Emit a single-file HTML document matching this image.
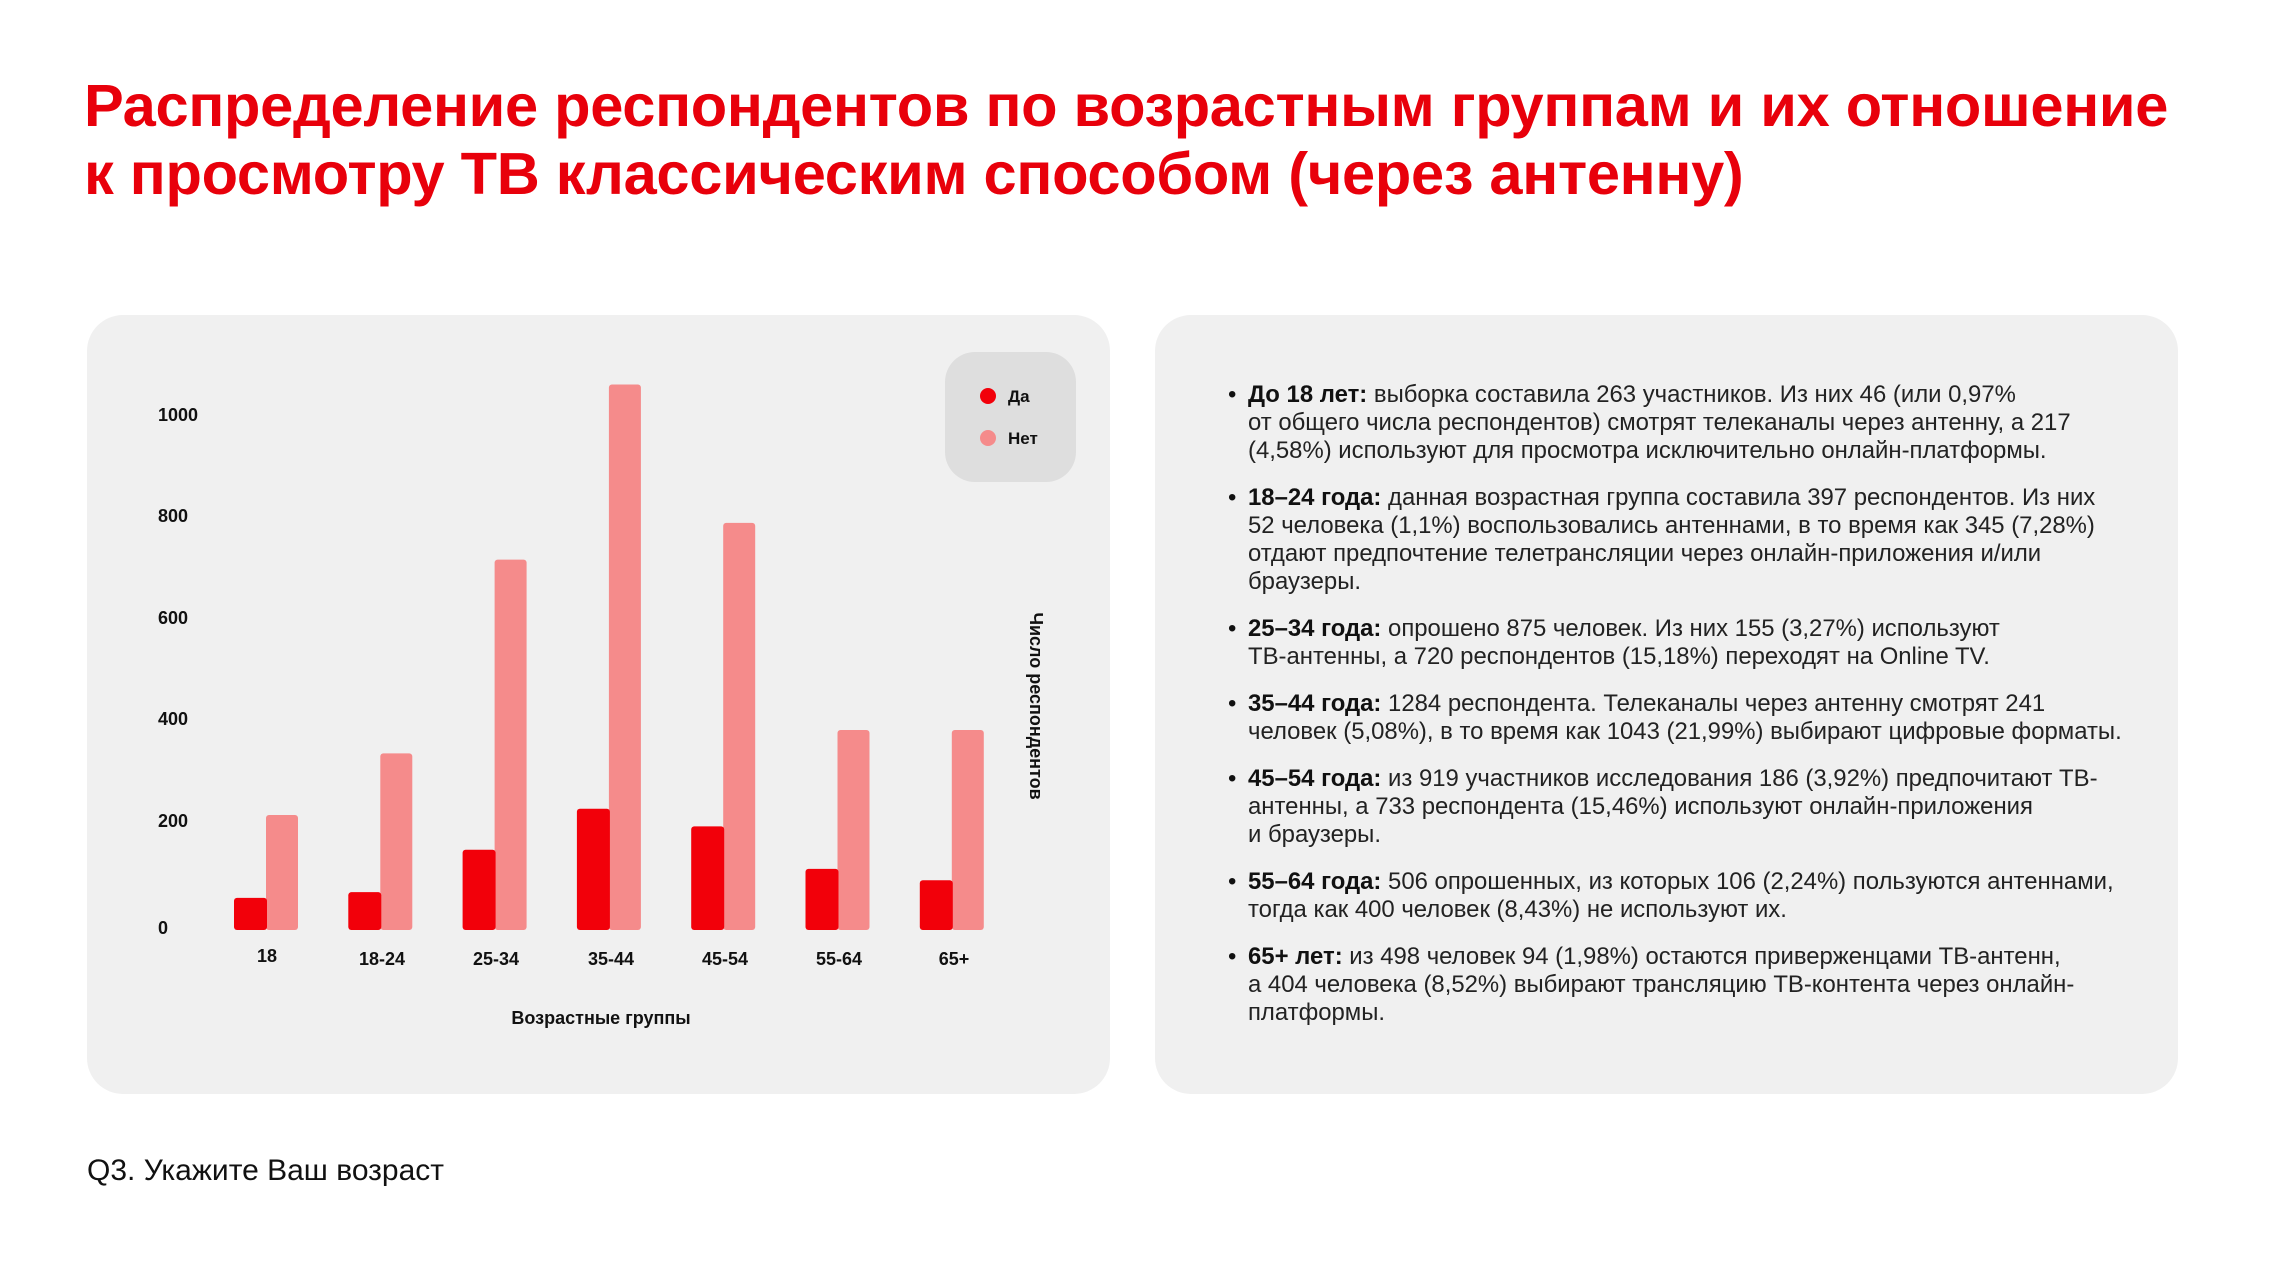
<!DOCTYPE html>
<html><head><meta charset="utf-8"><style>
html,body{margin:0;padding:0;background:#fff;}
body{width:2270px;height:1272px;position:relative;overflow:hidden;font-family:"Liberation Sans",Arial,sans-serif;}
.title{position:absolute;left:84px;top:72px;color:#e8000b;font-weight:bold;font-size:59.6px;line-height:68px;white-space:nowrap;letter-spacing:-0.3px;}
.panel{position:absolute;top:315px;width:1023px;height:779px;background:#f0f0f0;border-radius:36px;}
.txt{position:absolute;left:1248px;top:381px;font-size:23.9px;line-height:28px;color:#222;white-space:nowrap;}
.txt p{margin:0 0 19px 0;position:relative;}
.txt p:before{content:"•";position:absolute;left:-20px;top:0;color:#111;}
.txt b{color:#111;}
.foot{position:absolute;left:87px;top:1154px;font-size:30px;color:#111;}
</style></head><body>
<div class="title">Распределение респондентов по возрастным группам и их отношение<br>к просмотру ТВ классическим способом (через антенну)</div>
<div class="panel" style="left:87px"></div>
<div class="panel" style="left:1155px"></div>
<svg style="position:absolute;left:0;top:0" width="1130" height="1100">
<g font-family="Liberation Sans,Arial,sans-serif" font-weight="bold" font-size="18" fill="#111">
<text x="158" y="421">1000</text>
<text x="158" y="522">800</text>
<text x="158" y="624">600</text>
<text x="158" y="725">400</text>
<text x="158" y="827">200</text>
<text x="158" y="934">0</text>
<g text-anchor="middle">
<text x="267" y="962">18</text>
<text x="382" y="965">18-24</text>
<text x="496" y="965">25-34</text>
<text x="611" y="965">35-44</text>
<text x="725" y="965">45-54</text>
<text x="839" y="965">55-64</text>
<text x="954" y="965">65+</text>
<text x="601" y="1024">Возрастные группы</text>
</g>
<text transform="translate(1030,706) rotate(90)" text-anchor="middle" font-size="18">Число респондентов</text>
</g>
<rect x="945" y="352" width="131" height="130" rx="30" fill="#dedede"/>
<circle cx="988" cy="396" r="8" fill="#f2000a"/>
<circle cx="988" cy="438" r="8" fill="#f58b8b"/>
<g font-family="Liberation Sans,Arial,sans-serif" font-weight="bold" font-size="17" fill="#111">
<text x="1008" y="402">Да</text><text x="1008" y="444">Нет</text>
</g>
<g id="bars"></g>
</svg>
<div class="txt">
<p><b>До 18 лет:</b> выборка составила 263 участников. Из них 46 (или 0,97%<br>от общего числа респондентов) смотрят телеканалы через антенну, а 217<br>(4,58%) используют для просмотра исключительно онлайн-платформы.</p>
<p><b>18–24 года:</b> данная возрастная группа составила 397 респондентов. Из них<br>52 человека (1,1%) воспользовались антеннами, в то время как 345 (7,28%)<br>отдают предпочтение телетрансляции через онлайн-приложения и/или<br>браузеры.</p>
<p><b>25–34 года:</b> опрошено 875 человек. Из них 155 (3,27%) используют<br>ТВ-антенны, а 720 респондентов (15,18%) переходят на Online TV.</p>
<p><b>35–44 года:</b> 1284 респондента. Телеканалы через антенну смотрят 241<br>человек (5,08%), в то время как 1043 (21,99%) выбирают цифровые форматы.</p>
<p><b>45–54 года:</b> из 919 участников исследования 186 (3,92%) предпочитают ТВ-<br>антенны, а 733 респондента (15,46%) используют онлайн-приложения<br>и браузеры.</p>
<p><b>55–64 года:</b> 506 опрошенных, из которых 106 (2,24%) пользуются антеннами,<br>тогда как 400 человек (8,43%) не используют их.</p>
<p><b>65+ лет:</b> из 498 человек 94 (1,98%) остаются приверженцами ТВ-антенн,<br>а 404 человека (8,52%) выбирают трансляцию ТВ-контента через онлайн-<br>платформы.</p>
</div>
<div class="foot">Q3. Укажите Ваш возраст</div>
<script>
var da=[62,73,155,234,200,118,96],net=[222,341,715,1053,786,386,386];
var g=document.getElementById('bars'),s='';
for(var i=0;i<7;i++){var x=234+114.3*i;
var h1=da[i]*0.518,h2=net[i]*0.518;
s+='<rect x="'+(x+32)+'" y="'+(930-h2)+'" width="32" height="'+h2+'" rx="3" fill="#f58b8b"/>';
s+='<rect x="'+x+'" y="'+(930-h1)+'" width="33" height="'+h1+'" rx="3" fill="#f2000a"/>';}
g.innerHTML=s;
</script>
</body></html>
